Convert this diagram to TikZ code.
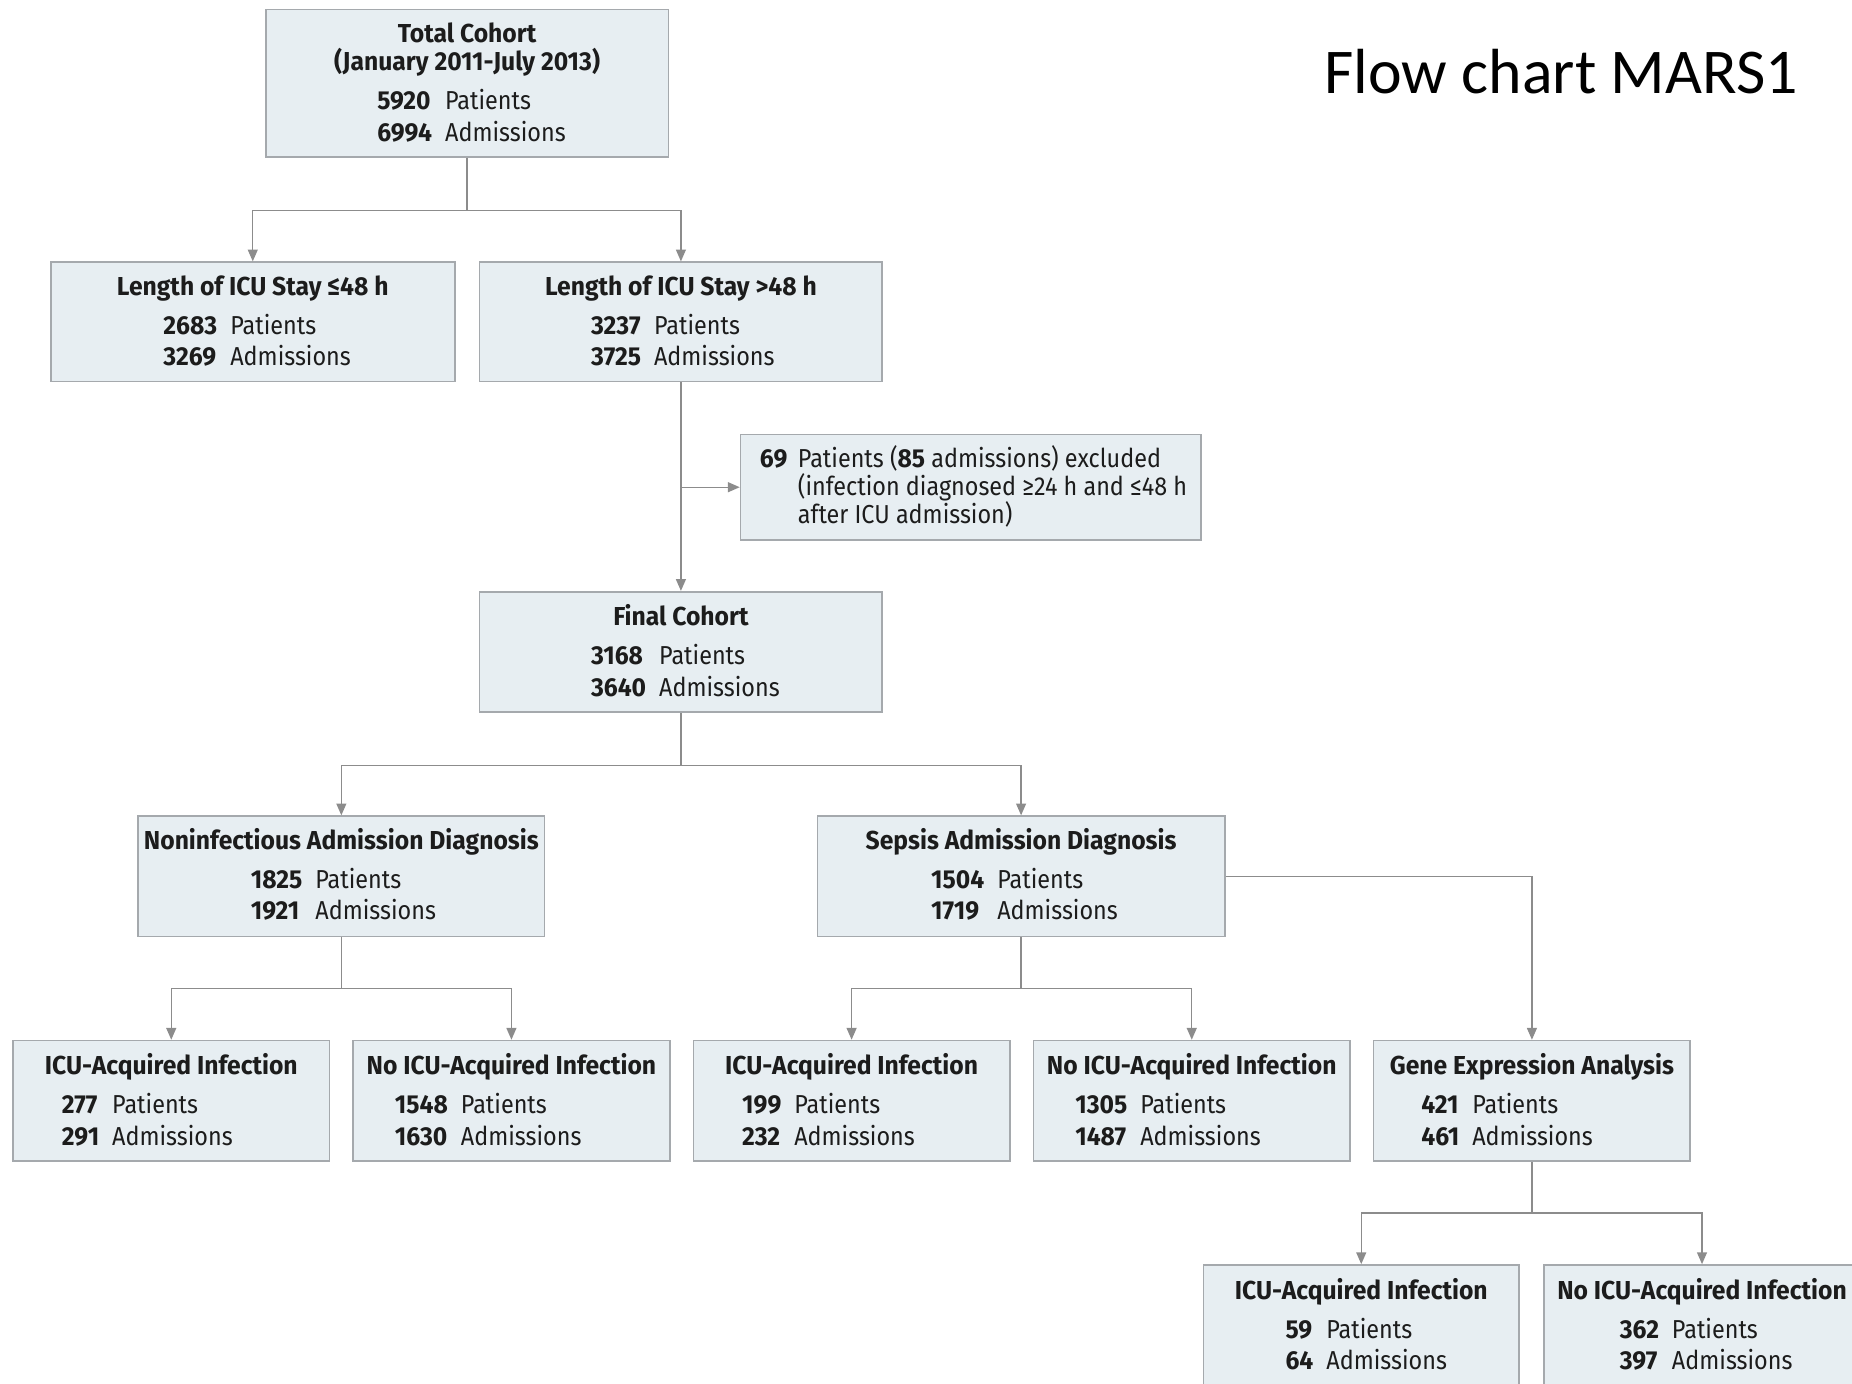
\documentclass[tikz,border=0pt]{standalone}
\usepackage{fontspec}
\setmainfont{Fira Sans}[FakeStretch=0.9, BoldFeatures={FakeStretch=0.95}]
\newfontfamily\headfont{Carlito}
\usetikzlibrary{arrows.meta}
\definecolor{cardfill}{HTML}{E7EEF2}
\definecolor{cardline}{HTML}{A5A9AD}
\definecolor{wire}{HTML}{8C8C8C}
\definecolor{ink}{HTML}{1C1C1C}
% two-row count block: bold number, then its label
\newcommand\counts[2]{\begin{tabular}[t]{@{}l@{\hspace{5.5pt}}l@{}}\textbf{#1} & Patients\\ \textbf{#2} & Admissions\end{tabular}}
\begin{document}
\begin{tikzpicture}[x=0.5pt, y=-0.5pt,
  font=\fontsize{11}{13.25}\selectfont, text=ink,
  card/.style={draw=cardline, fill=cardfill, line width=0.7pt, rectangle, inner sep=0pt},
  ttl/.style={font=\fontsize{11}{13.25}\selectfont\bfseries, inner sep=0pt, anchor=base},
  cnt/.style={inner sep=0pt, anchor=base west},
  wireline/.style={draw=wire, line width=0.6pt},
  arr/.style={wireline, -{Triangle[length=5pt, width=4.2pt]}}]
\useasboundingbox (0,0) rectangle (1568,1171);

% title
\node[font=\headfont\fontsize{27}{32}\selectfont, text=black, anchor=base west, inner sep=0pt] (head) at (1121,79) {Flow chart MARS1};

% boxes
\node[card, minimum width=170.5pt, minimum height=62.5pt] (tc) at (395.5,70.5) {};
\node[card, minimum width=171pt, minimum height=50.5pt] (los1) at (214,272.5) {};
\node[card, minimum width=170.5pt, minimum height=50.5pt] (los2) at (576.5,272.5) {};
\node[card, minimum width=195pt, minimum height=44.5pt] (excl) at (822,412.5) {};
\node[card, minimum width=170.5pt, minimum height=51pt] (fin) at (576.5,552) {};
\node[card, minimum width=172pt, minimum height=51pt] (non) at (289,742) {};
\node[card, minimum width=172.5pt, minimum height=51pt] (sep) at (864.5,742) {};
\node[card, minimum width=134pt, minimum height=51pt] (icua) at (145,932) {};
\node[card, minimum width=134pt, minimum height=51pt] (noa) at (433,932) {};
\node[card, minimum width=134pt, minimum height=51pt] (icub) at (721,932) {};
\node[card, minimum width=134pt, minimum height=51pt] (nob) at (1009,932) {};
\node[card, minimum width=134pt, minimum height=51pt] (gene) at (1297,932) {};
\node[card, minimum width=133.5pt, minimum height=51pt] (icuc) at (1152.5,1122) {};
\node[card, minimum width=134pt, minimum height=51pt] (noc) at (1441,1122) {};

% box texts
\node[ttl] (tc-t) at (395.5,36) {\begin{tabular}[t]{@{}c@{}}Total Cohort\\[-1.75pt] (January 2011-July 2013)\end{tabular}};
\node[cnt] (tc-n) at (319,93) {\counts{5920}{6994}};

\node[ttl] (los1-t) at (214,250) {Length of ICU Stay ≤48 h};
\node[cnt] (los1-n) at (138,283) {\counts{2683}{3269}};
\node[ttl] (los2-t) at (576.5,250) {Length of ICU Stay >48 h};
\node[cnt] (los2-n) at (500,283) {\counts{3237}{3725}};

\node[cnt] (excl-n) at (643,396) {\begin{tabular}[t]{@{}l@{\hspace{4.5pt}}l@{}}\textbf{69} & Patients (\textbf{85} admissions) excluded\\[-1.5pt]
  & (infection diagnosed ≥24 h and ≤48 h\\[-1.5pt] & after ICU admission)\end{tabular}};

\node[ttl] (fin-t) at (576.5,530) {Final Cohort};
\node[cnt] (fin-n) at (500,563) {\counts{3168}{3640}};

\node[ttl] (non-t) at (289,719) {Noninfectious Admission Diagnosis};
\node[cnt] (non-n) at (212,752) {\counts{1825}{1921}};
\node[ttl] (sep-t) at (864.5,719) {Sepsis Admission Diagnosis};
\node[cnt] (sep-n) at (788,752) {\counts{1504}{1719}};

\node[ttl] (icua-t) at (145,910) {ICU-Acquired Infection};
\node[cnt] (icua-n) at (52,943) {\counts{277}{291}};
\node[ttl] (noa-t) at (433,910) {No ICU-Acquired Infection};
\node[cnt] (noa-n) at (334,943) {\counts{1548}{1630}};
\node[ttl] (icub-t) at (721,910) {ICU-Acquired Infection};
\node[cnt] (icub-n) at (628,943) {\counts{199}{232}};
\node[ttl] (nob-t) at (1009,910) {No ICU-Acquired Infection};
\node[cnt] (nob-n) at (910,943) {\counts{1305}{1487}};
\node[ttl] (gene-t) at (1297,910) {Gene Expression Analysis};
\node[cnt] (gene-n) at (1203,943) {\counts{421}{461}};

\node[ttl] (icuc-t) at (1152.5,1100) {ICU-Acquired Infection};
\node[cnt] (icuc-n) at (1088,1133) {\counts{59}{64}};
\node[ttl] (noc-t) at (1441,1100) {No ICU-Acquired Infection};
\node[cnt] (noc-n) at (1371,1133) {\counts{362}{397}};

% connectors
\coordinate (j1) at (395.5,178);
\draw[wireline] (tc.south) -- (j1);
\draw[arr] (j1) -| (los1.north);
\draw[arr] (j1) -| (los2.north);

\draw[arr] (los2.south) -- (fin.north);
\draw[arr] (los2.south |- excl.west) -- (excl.west);

\coordinate (j2) at (576.5,648);
\draw[wireline] (fin.south) -- (j2);
\draw[arr] (j2) -| (non.north);
\draw[arr] (j2) -| (sep.north);

\coordinate (j3) at (289,837);
\draw[wireline] (non.south) -- (j3);
\draw[arr] (j3) -| (icua.north);
\draw[arr] (j3) -| (noa.north);

\coordinate (j4) at (864.5,837);
\draw[wireline] (sep.south) -- (j4);
\draw[arr] (j4) -| (icub.north);
\draw[arr] (j4) -| (nob.north);

\draw[arr] (sep.east) -| (gene.north);

\coordinate (j5) at (1297,1027);
\draw[wireline] (gene.south) -- (j5);
\draw[arr] (j5) -| (icuc.north);
\draw[arr] (j5) -| (noc.north);
\end{tikzpicture}
\end{document}
